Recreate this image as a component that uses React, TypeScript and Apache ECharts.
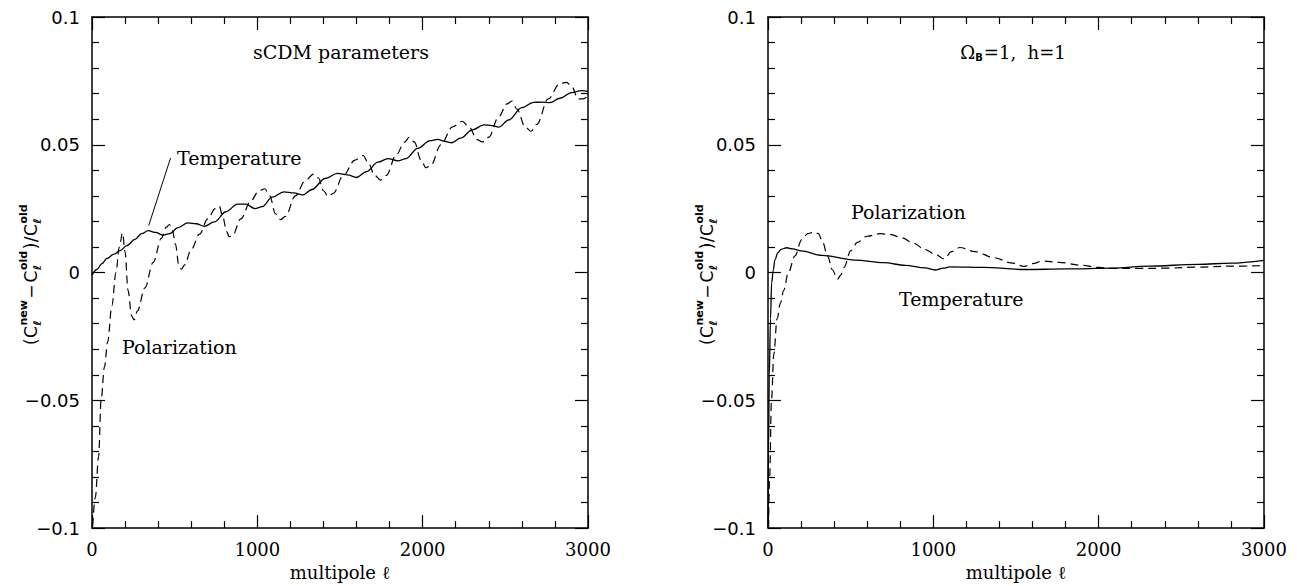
import React, { useEffect, useRef } from 'react';
import * as echarts from 'echarts';

// ---------------- data ----------------
// Left panel: sCDM parameters  [multipole l, (Cnew-Cold)/Cold]
const sCDMTemperature: number[][] = [
  [0, -0.001], [30, 0.0012], [60, 0.0035], [90, 0.0055], [130, 0.0071], [170, 0.0086], [210, 0.0105],
  [260, 0.013], [300, 0.0152], [340, 0.0164], [385, 0.0157], [430, 0.0146], [470, 0.0152], [520, 0.0176],
  [580, 0.0194], [630, 0.0191], [680, 0.0181], [740, 0.0198], [810, 0.0238], [880, 0.0268], [930, 0.0268],
  [985, 0.025], [1030, 0.0258], [1090, 0.0295], [1160, 0.0316], [1220, 0.0312], [1275, 0.0304], [1330, 0.0325],
  [1410, 0.0368], [1485, 0.0388], [1545, 0.0382], [1600, 0.0372], [1660, 0.0395], [1730, 0.0432], [1790, 0.0446],
  [1850, 0.0437], [1900, 0.0446], [1970, 0.0486], [2045, 0.0516], [2090, 0.0521], [2135, 0.0513], [2175, 0.0508],
  [2230, 0.0526], [2300, 0.0558], [2370, 0.0578], [2420, 0.0575], [2460, 0.0569], [2520, 0.0597], [2600, 0.0645],
  [2670, 0.0666], [2720, 0.0667], [2770, 0.0665], [2830, 0.0682], [2900, 0.0704], [2960, 0.0712], [3000, 0.0709],
];
const sCDMPolarization: number[][] = [
  [4, -0.099], [20, -0.088], [40, -0.072], [55, -0.05], [75, -0.037], [95, -0.027], [120, -0.013], [145, 0.0],
  [165, 0.01], [185, 0.0155], [200, 0.008], [218, -0.007], [240, -0.017], [255, -0.0185], [275, -0.015],
  [320, -0.006], [370, 0.004], [420, 0.0135], [450, 0.0178], [468, 0.0188], [485, 0.017], [505, 0.011],
  [525, 0.003], [540, 0.0013], [560, 0.003], [600, 0.009], [650, 0.015], [700, 0.021], [745, 0.025],
  [770, 0.026], [790, 0.022], [815, 0.016], [830, 0.014], [850, 0.0145], [900, 0.021], [960, 0.028],
  [1010, 0.032], [1045, 0.0328], [1075, 0.03], [1110, 0.023], [1140, 0.0207], [1170, 0.022], [1230, 0.03],
  [1290, 0.036], [1340, 0.0385], [1370, 0.037], [1400, 0.032], [1428, 0.0298], [1460, 0.031], [1520, 0.038],
  [1590, 0.044], [1640, 0.0458], [1670, 0.043], [1710, 0.038], [1745, 0.0362], [1780, 0.038], [1840, 0.046],
  [1890, 0.051], [1920, 0.053], [1950, 0.051], [1990, 0.044], [2020, 0.041], [2050, 0.042], [2110, 0.05],
  [2180, 0.057], [2240, 0.0592], [2280, 0.057], [2330, 0.052], [2360, 0.0511], [2400, 0.053], [2460, 0.061],
  [2510, 0.066], [2540, 0.0671], [2570, 0.064], [2620, 0.057], [2655, 0.0553], [2690, 0.058], [2760, 0.068],
  [2830, 0.074], [2870, 0.0744], [2900, 0.073], [2940, 0.068], [2970, 0.068], [3000, 0.069],
];
// Right panel: Omega_B = 1, h = 1
const baryonTemperature: number[][] = [
  [0, -0.1], [3, -0.07], [8, -0.04], [15, -0.018], [22, -0.004], [32, 0.001], [42, 0.005], [60, 0.0078],
  [80, 0.0091], [113, 0.0097], [150, 0.0093], [200, 0.0085], [325, 0.0067], [526, 0.0049], [700, 0.0039],
  [830, 0.0028], [950, 0.0018], [1010, 0.001], [1060, 0.0017], [1100, 0.0022], [1300, 0.002], [1550, 0.0012],
  [1800, 0.0014], [2085, 0.0017], [2300, 0.0025], [2600, 0.0032], [2800, 0.0037], [3000, 0.0048],
];
const baryonPolarization: number[][] = [
  [3, -0.1], [10, -0.08], [21, -0.05], [35, -0.032], [55, -0.018], [75, -0.012], [95, -0.007], [123, 0.0],
  [163, 0.0065], [204, 0.0129], [240, 0.0152], [278, 0.0159], [305, 0.0152], [330, 0.012], [360, 0.0065],
  [390, 0.001], [420, -0.0026], [440, -0.001], [460, 0.002], [500, 0.0085], [540, 0.0118], [600, 0.0142],
  [680, 0.0152], [740, 0.0149], [810, 0.0136], [880, 0.0115], [950, 0.009], [1010, 0.0072], [1065, 0.0053],
  [1110, 0.0082], [1160, 0.0098], [1250, 0.0082], [1370, 0.0058], [1470, 0.0038], [1550, 0.0024],
  [1600, 0.0035], [1660, 0.0045], [1760, 0.004], [1900, 0.0028], [2000, 0.002], [2080, 0.0016],
  [2250, 0.0016], [2400, 0.0017], [2600, 0.0021], [2800, 0.0025], [3000, 0.0027],
];
// leader line from the "Temperature" label to the curve (data coordinates)
const temperatureLeader: number[][] = [[343, 0.0184], [475, 0.0448]];

const xRange = [0, 3000];
const xStep = 1000;
const yRange = [-0.1, 0.1];
const yStep = 0.05;
const xName = 'multipole ℓ';
const leftTitle = 'sCDM parameters';

// ---------------- layout ----------------
const PANEL_TOP = 17;
const PANEL_H = 515;
const PANEL_W = 496;
const LEFTS = [92, 768];

const SERIF = '"DejaVu Serif", "Liberation Serif", serif';
const SANS = '"DejaVu Sans", "Liberation Sans", sans-serif';

function fmtY(v: number): string {
  const k = Math.round(v * 100) / 100;
  if (k === 0) return '0';
  return (k < 0 ? '−' : '') + String(Math.abs(k));
}
function fmtX(v: number): string {
  return String(Math.round(v));
}

function xAxis(gridIndex: number, position: 'bottom' | 'top', labels: boolean) {
  return {
    type: 'value', gridIndex, position, min: xRange[0], max: xRange[1], interval: xStep,
    axisLine: { show: true, onZero: false, lineStyle: { color: '#000', width: 1.5 } },
    axisTick: { show: true, inside: true, length: 13, lineStyle: { color: '#000', width: 1.2 } },
    minorTick: { show: true, splitNumber: 5, length: 7, lineStyle: { color: '#000', width: 1.2 } },
    splitLine: { show: false }, minorSplitLine: { show: false },
    axisLabel: { show: labels, margin: 12, fontFamily: SERIF, fontSize: 18, color: '#000', formatter: fmtX, showMinLabel: true, showMaxLabel: true },
    name: labels ? xName : '', nameLocation: 'middle', nameGap: 34,
    nameTextStyle: { fontFamily: SERIF, fontSize: 18, color: '#000' },
  };
}
function yAxis(gridIndex: number, position: 'left' | 'right', labels: boolean) {
  return {
    type: 'value', gridIndex, position, min: yRange[0], max: yRange[1], interval: yStep,
    axisLine: { show: true, onZero: false, lineStyle: { color: '#000', width: 1.5 } },
    axisTick: { show: true, inside: true, length: 13, lineStyle: { color: '#000', width: 1.2 } },
    minorTick: { show: true, splitNumber: 5, length: 7, lineStyle: { color: '#000', width: 1.2 } },
    splitLine: { show: false }, minorSplitLine: { show: false },
    axisLabel: { show: labels, margin: 12, fontFamily: SANS, fontSize: 18, color: '#000', formatter: fmtY, showMinLabel: true, showMaxLabel: true },
  };
}

function txt(x: number, y: number, text: string, size: number, family: string, align = 'left', weight = 'normal') {
  return {
    type: 'text', x, y, silent: true,
    style: {
      text, fill: '#000', fontSize: size, fontFamily: family, fontWeight: weight,
      textAlign: align, textVerticalAlign: 'middle', align, verticalAlign: 'middle',
    },
  };
}

function measure(t: string, size: number, family: string, weight = 'normal') {
  const c = document.createElement('canvas').getContext('2d');
  if (!c) return t.length * size * 0.6;
  c.font = `${weight} ${size}px ${family}`;
  return c.measureText(t).width;
}

function yLabel(cx: number, cy: number) {
  const MF = 17, SF = 11;
  type Piece = { main?: string; sup?: string; sub?: string };
  const pieces: Piece[] = [
    { main: '(' }, { main: 'C' }, { sup: 'new', sub: 'ℓ' }, { main: '−' }, { main: 'C' }, { sup: 'old', sub: 'ℓ' },
    { main: ')' }, { main: '/' }, { main: 'C' }, { sup: 'old', sub: 'ℓ' },
  ];
  const children: any[] = [];
  let pos = 0;
  const items: { x: number; p: Piece }[] = [];
  for (const p of pieces) {
    items.push({ x: pos, p });
    if (p.main) pos += measure(p.main, MF, SANS) + (p.main === '−' ? 2 : 0.5);
    else pos += Math.max(measure(p.sup || '', SF, SANS, 'bold'), measure(p.sub || '', SF, SANS, 'bold')) + 1.5;
  }
  const off = -pos / 2;
  for (const it of items) {
    if (it.p.main) children.push(txt(it.x + off, 0, it.p.main, MF, SANS));
    else {
      children.push(txt(it.x + off, -8, it.p.sup as string, SF, SANS, 'left', 'bold'));
      children.push(txt(it.x + off, 6, it.p.sub as string, SF, SANS, 'left', 'bold'));
    }
  }
  return { type: 'group', x: cx, y: cy, rotation: Math.PI / 2, children };
}

function baryonTitle(cx: number, cy: number) {
  const F = 18, SF = 10;
  const a = 'Ω', b = 'B', c = '=1,  h=1';
  const wa = measure(a, F, SERIF), wb = measure(b, SF, SANS, 'bold'), wc = measure(c, F, SERIF);
  const total = wa + wb + 1 + wc;
  const x0 = cx - total / 2;
  return [
    txt(x0, cy, a, F, SERIF),
    txt(x0 + wa, cy + 5, b, SF, SANS, 'left', 'bold'),
    txt(x0 + wa + wb + 1, cy, c, F, SERIF),
  ];
}

export default function App() {
  const ref = useRef<HTMLDivElement>(null);
  useEffect(() => {
    if (!ref.current) return;
    const chart = echarts.init(ref.current, undefined, { renderer: 'svg' });
    const solid = { color: '#000', width: 1.3, type: 'solid' };
    const dashed = { color: '#000', width: 1.2, type: [8, 5] };
    const line = (data: number[][], xi: number, yi: number, style: any, extra: any = {}) => ({
      type: 'line', data, xAxisIndex: xi, yAxisIndex: yi, symbol: 'none', showSymbol: false,
      smooth: 0.35, smoothMonotone: 'x', lineStyle: style, silent: true, ...extra,
    });
    chart.setOption({
      animation: false,
      backgroundColor: '#fff',
      grid: LEFTS.map((l) => ({ left: l, top: PANEL_TOP, width: PANEL_W, height: PANEL_H, show: false })),
      xAxis: [xAxis(0, 'bottom', true), xAxis(0, 'top', false), xAxis(1, 'bottom', true), xAxis(1, 'top', false)],
      yAxis: [yAxis(0, 'left', true), yAxis(0, 'right', false), yAxis(1, 'left', true), yAxis(1, 'right', false)],
      series: [
        line(sCDMTemperature, 0, 0, solid, {
          markLine: {
            silent: true, symbol: ['none', 'none'], label: { show: false },
            lineStyle: { color: '#000', width: 1, type: 'solid' },
            data: [[{ coord: temperatureLeader[0] }, { coord: temperatureLeader[1] }]],
          },
        }),
        line(sCDMPolarization, 0, 0, dashed),
        line(baryonTemperature, 2, 2, solid),
        line(baryonPolarization, 2, 2, dashed),
      ],
      graphic: [
        txt(341, 52, leftTitle, 19, SERIF, 'center'),
        txt(177, 158, 'Temperature', 19, SERIF),
        txt(122, 347, 'Polarization', 19, SERIF),
        ...baryonTitle(1013, 52),
        txt(851, 212, 'Polarization', 19, SERIF),
        txt(899, 299, 'Temperature', 19, SERIF),
        yLabel(31, 274),
        yLabel(707, 274),
      ],
    });
    return () => chart.dispose();
  }, []);
  return <div ref={ref} style={{ position: 'fixed', left: 0, top: 0, width: 1297, height: 586, background: '#fff' }} />;
}
